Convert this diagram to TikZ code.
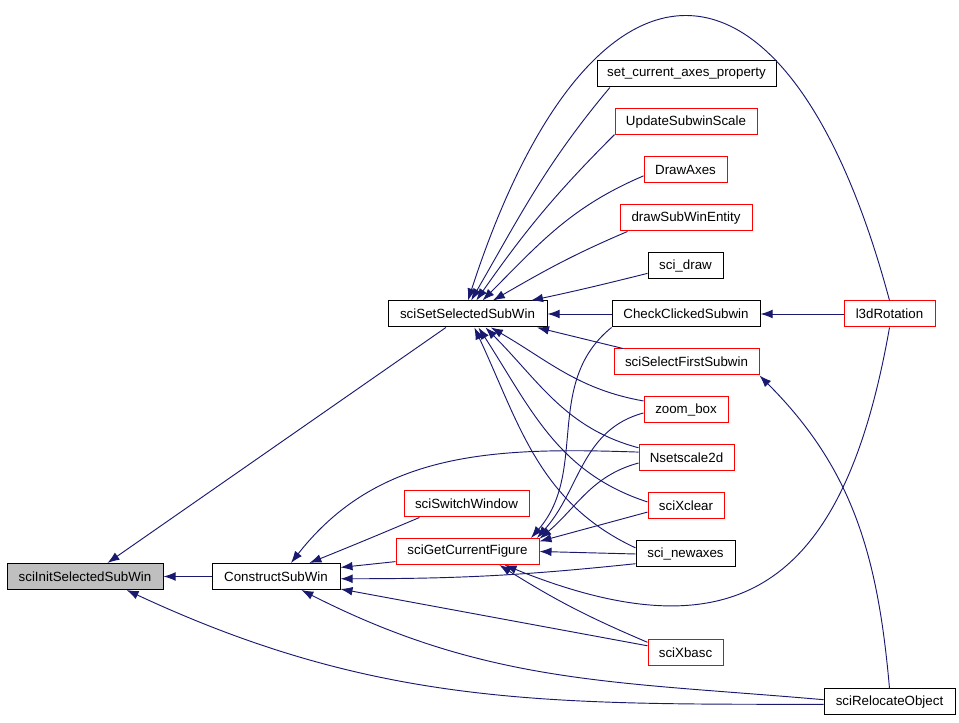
\documentclass[tikz,border=0pt]{standalone}
\usepackage{fontspec}
\setmainfont{Liberation Sans}
\usetikzlibrary{arrows.meta}
\definecolor{edgeblue}{HTML}{191970}
\definecolor{boxgrey}{HTML}{BFBFBF}
\begin{document}
\begin{tikzpicture}[x=0.75pt,y=0.75pt]
   \tikzstyle{line} = [draw=edgeblue, line width=0.7pt, -{Latex[length=9pt,width=6.5pt]}]
   \tikzstyle{fn} = [draw, line width=0.75pt, minimum height=19.5pt, inner sep=0pt, font=\fontsize{10}{12}\selectfont]
   \tikzstyle{fnred} = [fn, draw=red]
   \useasboundingbox (0,0) rectangle (959,723);

   \node[fn, fill=boxgrey, minimum width=117pt] (init) at (85,146.5) {sciInitSelectedSubWin};
   \node[fn, minimum width=96pt] (csw) at (276,146.5) {ConstructSubWin};
   \node[fn, minimum width=119.25pt] (sss) at (467.5,409) {sciSetSelectedSubWin};
   \node[fnred, minimum width=93.75pt] (ssw) at (466.5,219) {sciSwitchWindow};
   \node[fnred, minimum width=107.25pt] (gcf) at (467.5,171.5) {sciGetCurrentFigure};

   \node[fn, minimum width=134.25pt] (scap) at (686.5,649) {set\_current\_axes\_property};
   \node[fnred, minimum width=106.5pt] (usw) at (686,601) {UpdateSubwinScale};
   \node[fnred, minimum width=62.25pt] (dax) at (685.5,553) {DrawAxes};
   \node[fnred, minimum width=99pt] (dswe) at (686,505) {drawSubWinEntity};
   \node[fn, minimum width=56.25pt] (sdraw) at (685.5,457) {sci\_draw};
   \node[fn, minimum width=111pt] (ccs) at (686,409) {CheckClickedSubwin};
   \node[fnred, minimum width=108.75pt] (sfs) at (686.5,361) {sciSelectFirstSubwin};
   \node[fnred, minimum width=63pt] (zbox) at (686,313) {zoom\_box};
   \node[fnred, minimum width=71.25pt] (nss) at (686.5,265) {Nsetscale2d};
   \node[fnred, minimum width=57pt] (sxc) at (686,217) {sciXclear};
   \node[fn, minimum width=74.25pt] (snew) at (685.5,169) {sci\_newaxes};
   \node[fnred, minimum width=56.25pt] (sxb) at (685.5,70.5) {sciXbasc};

   \node[fnred, minimum width=68.25pt] (l3d) at (889.5,409) {l3dRotation};
   \node[fn, minimum width=98.25pt] (sro) at (889.5,21) {sciRelocateObject};

   % callers of sciInitSelectedSubWin
   \path (csw.west) edge[line] (init.east);
   \path (sss.212) edge[line] (init.31);
   \path (sro.182) edge[line, out=180, in=-25] (init.-18);

   % callers of sciSetSelectedSubWin
   \path (l3d.north) edge[line, out=105, in=72, looseness=2.4] (sss.88);
   \path (scap.190) edge[line, out=230, in=60] (sss.75);
   \path (usw.190) edge[line, out=225, in=55] (sss.57);
   \path (dax.188) edge[line, out=203, in=45] (sss.42);
   \path (dswe.193) edge[line, out=203, in=30] (sss.28);
   \path (sdraw.191) edge[line, out=194, in=12] (sss.12);
   \path (ccs.west) edge[line] (sss.east);
   \path (sfs.168) edge[line] (sss.-11);
   \path (zbox.168) edge[line, out=170, in=-30] (sss.-30);
   \path (nss.168) edge[line, out=165, in=-45] (sss.-37);
   \path (sxc.174) edge[line, out=162, in=-57] (sss.-51);
   \path (snew.173) edge[line, out=155, in=-65] (sss.-63);

   % callers of sciGetCurrentFigure
   \path (ccs.south west) edge[line, out=219, in=49] (gcf.12);
   \path (zbox.184) edge[line, out=195, in=48] (gcf.11);
   \path (nss.186) edge[line, out=195, in=40] (gcf.10);
   \path (sxc.189) edge[line] (gcf.8);
   \path (snew.west) edge[line] (gcf.east);
   \path (sxb.165) edge[line, out=157, in=-32] (gcf.-23);
   \path (l3d.south) edge[line, out=260, in=-22, looseness=1.45] (gcf.-20);

   % callers of ConstructSubWin
   \path (nss.173) edge[line, out=178, in=52] (csw.42);
   \path (ssw.196) edge[line, out=203, in=22] (csw.22);
   \path (gcf.188) edge[line] (csw.8);
   \path (snew.191) edge[line, out=186, in=0] (csw.-2);
   \path (sxb.170) edge[line] (csw.-11);
   \path (sro.178) edge[line, out=175, in=-27] (csw.-28);

   \path (sro.north) edge[line, out=95, in=-45] (sfs.south east);
   \path (l3d.west) edge[line] (ccs.east);
\end{tikzpicture}
\end{document}
